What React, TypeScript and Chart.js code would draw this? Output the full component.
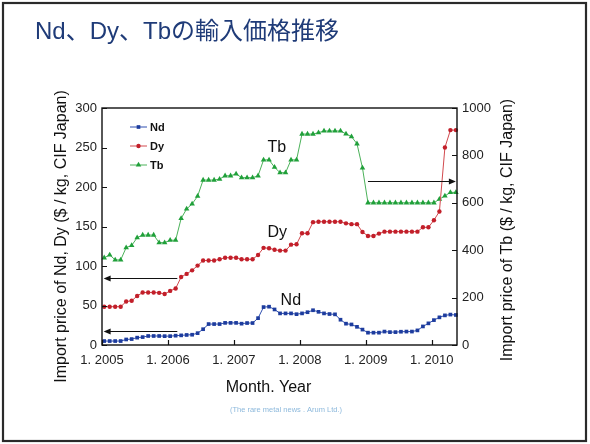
import { useEffect, useRef } from 'react';
import { Chart, registerables } from 'chart.js';
import { drawPoint } from 'chart.js/helpers';

Chart.register(...registerables);

// Monthly import prices, Jan 2005 – May 2010
const ndPrice = [
  5, 5, 5, 5, 7, 7.5, 9.3, 10, 11.4, 11.4, 11.4, 11.2,
  11.2, 11.8, 12.2, 12.7, 13, 15, 20, 26.5, 26.5, 26.5, 28, 28,
  28, 27, 27.8, 27.8, 34, 48, 48.5, 45, 40, 40, 40, 39,
  40, 41.5, 44, 42, 40, 39.2, 38.8, 32, 27, 26, 23, 19.5,
  15.6, 15.6, 15.6, 17, 16.3, 16.3, 16.8, 17, 17, 18.5, 23.5, 27.4,
  31.5, 35, 37.5, 38.5, 38,
];
const dyPrice = [
  48.5, 48.5, 48.5, 48.5, 55, 56, 62, 66.5, 66.5, 66.5, 66, 64.5,
  68.5, 71.5, 86, 90, 94.5, 100.5, 107, 107, 107, 108.5, 110.5, 110.5,
  110.5, 108.5, 108.5, 108.5, 114, 123, 122.5, 120.5, 119.5, 119.5, 127, 127.5,
  141.5, 141.5, 155.5, 156, 156, 156, 156, 156, 154, 153, 153, 143,
  138, 138, 141, 143.5, 143.5, 143.5, 143.5, 143.5, 143.5, 143.5, 149, 149,
  158, 169, 250, 272, 272,
];
const tbPrice = [
  368, 380, 359, 359, 411, 420, 453, 464, 464, 464, 432, 432,
  442, 442, 534, 574, 595, 628, 696, 696, 696, 700, 714, 714,
  722, 706, 706, 706, 714, 781, 781, 750, 727, 727, 781, 781,
  890, 890, 890, 896, 903, 903, 903, 903, 891, 879, 849, 747,
  600, 600, 600, 600, 600, 600, 600, 600, 600, 600, 600, 600,
  600, 615, 629, 644, 644,
];

// x axis: months counted from January 2005
const yearTickValues = [0, 12, 24, 36, 48, 60];
const xTickLabels = ['1. 2005', '1. 2006', '1. 2007', '1. 2008', '1. 2009', '1. 2010'];
const MONTH_OFFSET = 0.4; // each monthly price sits inside its month
const X_MAX = 64.6;

const leftTicks = { min: 0, max: 300, step: 50 };
const rightTicks = { min: 0, max: 1000, step: 200 };

const FONT = '"Liberation Sans", Arial, sans-serif';
const TITLE_FONT = '"Liberation Sans", "Noto Sans CJK JP", sans-serif';
const TITLE = 'Nd、Dy、Tbの輸入価格推移';
const LEFT_TITLE = 'Import price of Nd, Dy ($ / kg, CIF Japan)';
const RIGHT_TITLE = 'Import price of Tb ($ / kg, CIF Japan)';
const X_TITLE = 'Month. Year';
const SOURCE = '(The rare metal news . Arum Ltd.)';

// Series name labels placed beside the curves (month, value, axis)
const seriesTags = [
  { text: 'Tb', month: 30.1, value: 250, axis: 'y' },
  { text: 'Dy', month: 30.1, value: 142.5, axis: 'y' },
  { text: 'Nd', month: 32.5, value: 56, axis: 'y' },
];
// Arrows pointing each series to the axis it is read on
const axisArrows = [
  { from: 13.7, to: 0.3, value: 84.5, axis: 'y' },
  { from: 13.7, to: 0.3, value: 18, axis: 'y' },
  { from: 48.4, to: 64.4, value: 692, axis: 'y1' },
];

const toPoints = (values: number[]) => values.map((v, i) => ({ x: i + MONTH_OFFSET, y: v }));

const decorPlugin = {
  id: 'slideDecor',
  beforeDraw(chart: any) {
    const { ctx, width, height } = chart;
    ctx.save();
    ctx.fillStyle = '#ffffff';
    ctx.fillRect(0, 0, width, height);
    ctx.restore();
  },
  afterDraw(chart: any) {
    const { ctx, chartArea: a, scales } = chart;
    const xs = scales.x;
    ctx.save();

    // plot box
    ctx.strokeStyle = '#111';
    ctx.lineWidth = 1.4;
    ctx.strokeRect(a.left, a.top, a.right - a.left, a.bottom - a.top);

    // inward tick marks
    ctx.lineWidth = 1.2;
    ctx.beginPath();
    for (const t of scales.y.ticks) {
      const py = Math.round(scales.y.getPixelForValue(t.value)) + 0.5;
      ctx.moveTo(a.left, py);
      ctx.lineTo(a.left + 5, py);
    }
    for (const t of scales.y1.ticks) {
      const py = Math.round(scales.y1.getPixelForValue(t.value)) + 0.5;
      ctx.moveTo(a.right, py);
      ctx.lineTo(a.right - 5, py);
    }
    for (const t of xs.ticks) {
      const px = Math.round(xs.getPixelForValue(t.value)) + 0.5;
      ctx.moveTo(px, a.bottom);
      ctx.lineTo(px, a.bottom - 5);
    }
    ctx.stroke();

    // legend
    const legendY = [127, 146, 165];
    chart.data.datasets.forEach((ds: any, i: number) => {
      const y = legendY[i];
      ctx.strokeStyle = ds.borderColor;
      ctx.lineWidth = 1;
      ctx.beginPath();
      ctx.moveTo(130, y);
      ctx.lineTo(147, y);
      ctx.stroke();
      ctx.fillStyle = ds.pointBackgroundColor;
      drawPoint(ctx, { pointStyle: ds.pointStyle, radius: ds.pointRadius, rotation: 0, borderWidth: 0 }, 138.5, y);
      ctx.fillStyle = '#111';
      ctx.font = `bold 11px ${FONT}`;
      ctx.textAlign = 'left';
      ctx.textBaseline = 'middle';
      ctx.fillText(ds.label, 150, y + 0.5);
    });

    // series tags
    ctx.fillStyle = '#111';
    ctx.font = `16px ${FONT}`;
    ctx.textAlign = 'left';
    ctx.textBaseline = 'middle';
    for (const tag of seriesTags) {
      ctx.fillText(tag.text, xs.getPixelForValue(tag.month), scales[tag.axis].getPixelForValue(tag.value));
    }

    // arrows
    ctx.strokeStyle = '#111';
    ctx.fillStyle = '#111';
    ctx.lineWidth = 1.2;
    for (const ar of axisArrows) {
      const y = Math.round(scales[ar.axis].getPixelForValue(ar.value)) + 0.5;
      const x1 = xs.getPixelForValue(ar.from);
      const x2 = xs.getPixelForValue(ar.to);
      const dir = Math.sign(x2 - x1);
      ctx.beginPath();
      ctx.moveTo(x1, y);
      ctx.lineTo(x2 - dir * 5, y);
      ctx.stroke();
      ctx.beginPath();
      ctx.moveTo(x2, y);
      ctx.lineTo(x2 - dir * 7, y - 3);
      ctx.lineTo(x2 - dir * 7, y + 3);
      ctx.closePath();
      ctx.fill();
    }

    // slide title
    ctx.fillStyle = '#1f3b78';
    ctx.font = `24px ${TITLE_FONT}`;
    ctx.textAlign = 'left';
    ctx.textBaseline = 'middle';
    ctx.fillText(TITLE, 35, 32);

    // axis titles
    ctx.fillStyle = '#111';
    ctx.font = `16px ${FONT}`;
    ctx.textAlign = 'center';
    ctx.textBaseline = 'middle';
    ctx.fillText(X_TITLE, 268.5, 388);
    ctx.save();
    ctx.translate(62, 236.5);
    ctx.rotate(-Math.PI / 2);
    ctx.fillText(LEFT_TITLE, 0, 0);
    ctx.restore();
    ctx.save();
    ctx.translate(508, 230);
    ctx.rotate(-Math.PI / 2);
    ctx.fillText(RIGHT_TITLE, 0, 0);
    ctx.restore();

    // source note
    ctx.fillStyle = '#8db9dc';
    ctx.font = `7.5px ${FONT}`;
    ctx.fillText(SOURCE, 286, 410);

    // slide frame
    ctx.strokeStyle = '#2a2a2a';
    ctx.lineWidth = 2.2;
    ctx.strokeRect(3, 3, 583, 438);

    ctx.restore();
  },
};

export default function App() {
  const canvasRef = useRef<HTMLCanvasElement>(null);

  useEffect(() => {
    const tickFont = { family: FONT, size: 13 };
    const plain = (v: any) => String(v);
    const chart = new Chart(canvasRef.current!, {
      type: 'line',
      data: {
        datasets: [
          {
            label: 'Nd',
            data: toPoints(ndPrice),
            yAxisID: 'y',
            borderColor: '#2f4fb0',
            borderWidth: 1,
            pointStyle: 'rect',
            pointRadius: 2.6,
            pointBorderWidth: 0,
            pointBackgroundColor: '#1d3c9e',
            tension: 0,
          },
          {
            label: 'Dy',
            data: toPoints(dyPrice),
            yAxisID: 'y',
            borderColor: '#d24a4e',
            borderWidth: 1,
            pointStyle: 'circle',
            pointRadius: 2.2,
            pointBorderWidth: 0,
            pointBackgroundColor: '#c21f2a',
            tension: 0,
          },
          {
            label: 'Tb',
            data: toPoints(tbPrice),
            yAxisID: 'y1',
            borderColor: '#4cb25a',
            borderWidth: 1,
            pointStyle: 'triangle',
            pointRadius: 3.2,
            pointBorderWidth: 0,
            pointBackgroundColor: '#20a03a',
            tension: 0,
          },
        ],
      },
      options: {
        responsive: false,
        animation: false,
        events: [],
        clip: false,
        layout: { padding: { top: 108, left: 0, right: 0, bottom: 0 } },
        plugins: { legend: { display: false }, tooltip: { enabled: false }, title: { display: false } },
        scales: {
          x: {
            type: 'linear',
            min: 0,
            max: X_MAX,
            grid: { display: false, drawTicks: false },
            border: { display: false },
            afterBuildTicks: (s: any) => {
              s.ticks = yearTickValues.map((value) => ({ value }));
            },
            afterFit: (s: any) => {
              s.height = 99;
            },
            ticks: {
              autoSkip: false,
              maxRotation: 0,
              padding: 8,
              color: '#222',
              font: tickFont,
              callback: (v: any) => xTickLabels[yearTickValues.indexOf(Number(v))] ?? '',
            },
          },
          y: {
            position: 'left',
            min: leftTicks.min,
            max: leftTicks.max,
            grid: { display: false, drawTicks: false },
            border: { display: false },
            afterFit: (s: any) => {
              s.width = 102;
            },
            ticks: { stepSize: leftTicks.step, padding: 5, color: '#222', font: tickFont, callback: plain },
          },
          y1: {
            position: 'right',
            min: rightTicks.min,
            max: rightTicks.max,
            grid: { display: false, drawTicks: false },
            border: { display: false },
            afterFit: (s: any) => {
              s.width = 133;
            },
            ticks: { stepSize: rightTicks.step, padding: 5, color: '#222', font: tickFont, callback: plain },
          },
        },
      } as any,
      plugins: [decorPlugin],
    });
    return () => chart.destroy();
  }, []);

  return (
    <div style={{ position: 'fixed', left: 0, top: 0, width: 590, height: 444, background: '#fff' }}>
      <canvas ref={canvasRef} width={590} height={444} style={{ display: 'block', width: 590, height: 444 }} />
    </div>
  );
}
